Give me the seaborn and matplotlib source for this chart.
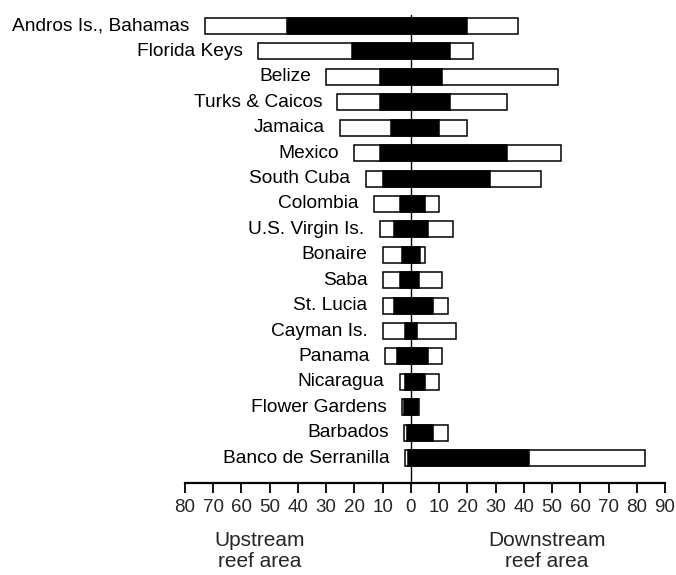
import matplotlib
matplotlib.use("Agg")
import matplotlib.pyplot as plt
import seaborn as sns
import pandas as pd

sites = ["Andros Is., Bahamas", "Florida Keys", "Belize", "Turks & Caicos", "Jamaica",
         "Mexico", "South Cuba", "Colombia", "U.S. Virgin Is.", "Bonaire", "Saba",
         "St. Lucia", "Cayman Is.", "Panama", "Nicaragua", "Flower Gardens",
         "Barbados", "Banco de Serranilla"]
upstream_total = [73, 54, 30, 26, 25, 20, 16, 13, 11, 10, 10, 10, 10, 9, 4, 3.2, 2.4, 2]
upstream_core = [44, 21, 11, 11, 7, 11, 10, 4, 6, 3, 4, 6, 2, 5, 2, 2.6, 1.5, 1]
downstream_core = [20, 14, 11, 14, 10, 34, 28, 5, 6, 3.3, 3, 8, 2, 6, 5, 2.4, 8, 42]
downstream_total = [38, 22, 52, 34, 20, 53, 46, 10, 15, 5, 11, 13, 16, 11, 10, 3, 13, 83]
tick_values = list(range(-80, 91, 10))
tick_labels = [str(abs(v)) for v in tick_values]

df = pd.DataFrame({
    "site": sites,
    "up_total": [-v for v in upstream_total],
    "up_core": [-v for v in upstream_core],
    "down_core": downstream_core,
    "down_total": downstream_total,
})

sns.set_style("white")
plt.rcParams["font.family"] = ["Liberation Sans", "DejaVu Sans"]

fig = plt.figure(figsize=(6.76, 5.75), dpi=100)
ax = fig.add_axes([185 / 676, 1 - 483 / 575, 480 / 676, 468 / 575])

bw = 0.63
lw = 1.1
ax.axvline(0, color="black", lw=1.0, zorder=0)
for col, colr in [("up_total", "white"), ("down_total", "white"),
                  ("up_core", "black"), ("down_core", "black")]:
    sns.barplot(data=df, x=col, y="site", orient="h", color=colr, saturation=1,
                edgecolor="black", linewidth=lw, width=bw, errorbar=None, ax=ax,
                zorder=2)

for i, s in enumerate(sites):
    ax.annotate(s, xy=(-upstream_total[i], i), xytext=(-11, 0), textcoords="offset points",
                ha="right", va="center", fontsize=13.8, color="black")

ax.set_xlim(-80, 90)
ax.set_ylim(17.98, -0.433)
ax.set_xticks(tick_values)
ax.set_xticklabels(tick_labels, fontsize=13.5)
ax.set_yticks([])
ax.set_xlabel("")
ax.set_ylabel("")
for side in ["top", "right", "left"]:
    ax.spines[side].set_visible(False)
ax.spines["bottom"].set_linewidth(1.6)
ax.spines["bottom"].set_color("black")
ax.tick_params(axis="x", direction="out", length=7.5, width=1.3, color="black",
               pad=4, bottom=True)

fig.text(260 / 676, 1 - 551 / 575, "Upstream\nreef area", ha="center", va="center",
         fontsize=15, linespacing=1.08)
fig.text(547 / 676, 1 - 551 / 575, "Downstream\nreef area", ha="center", va="center",
         fontsize=15, linespacing=1.08)

fig.savefig("out.png", dpi=100, facecolor="white")
